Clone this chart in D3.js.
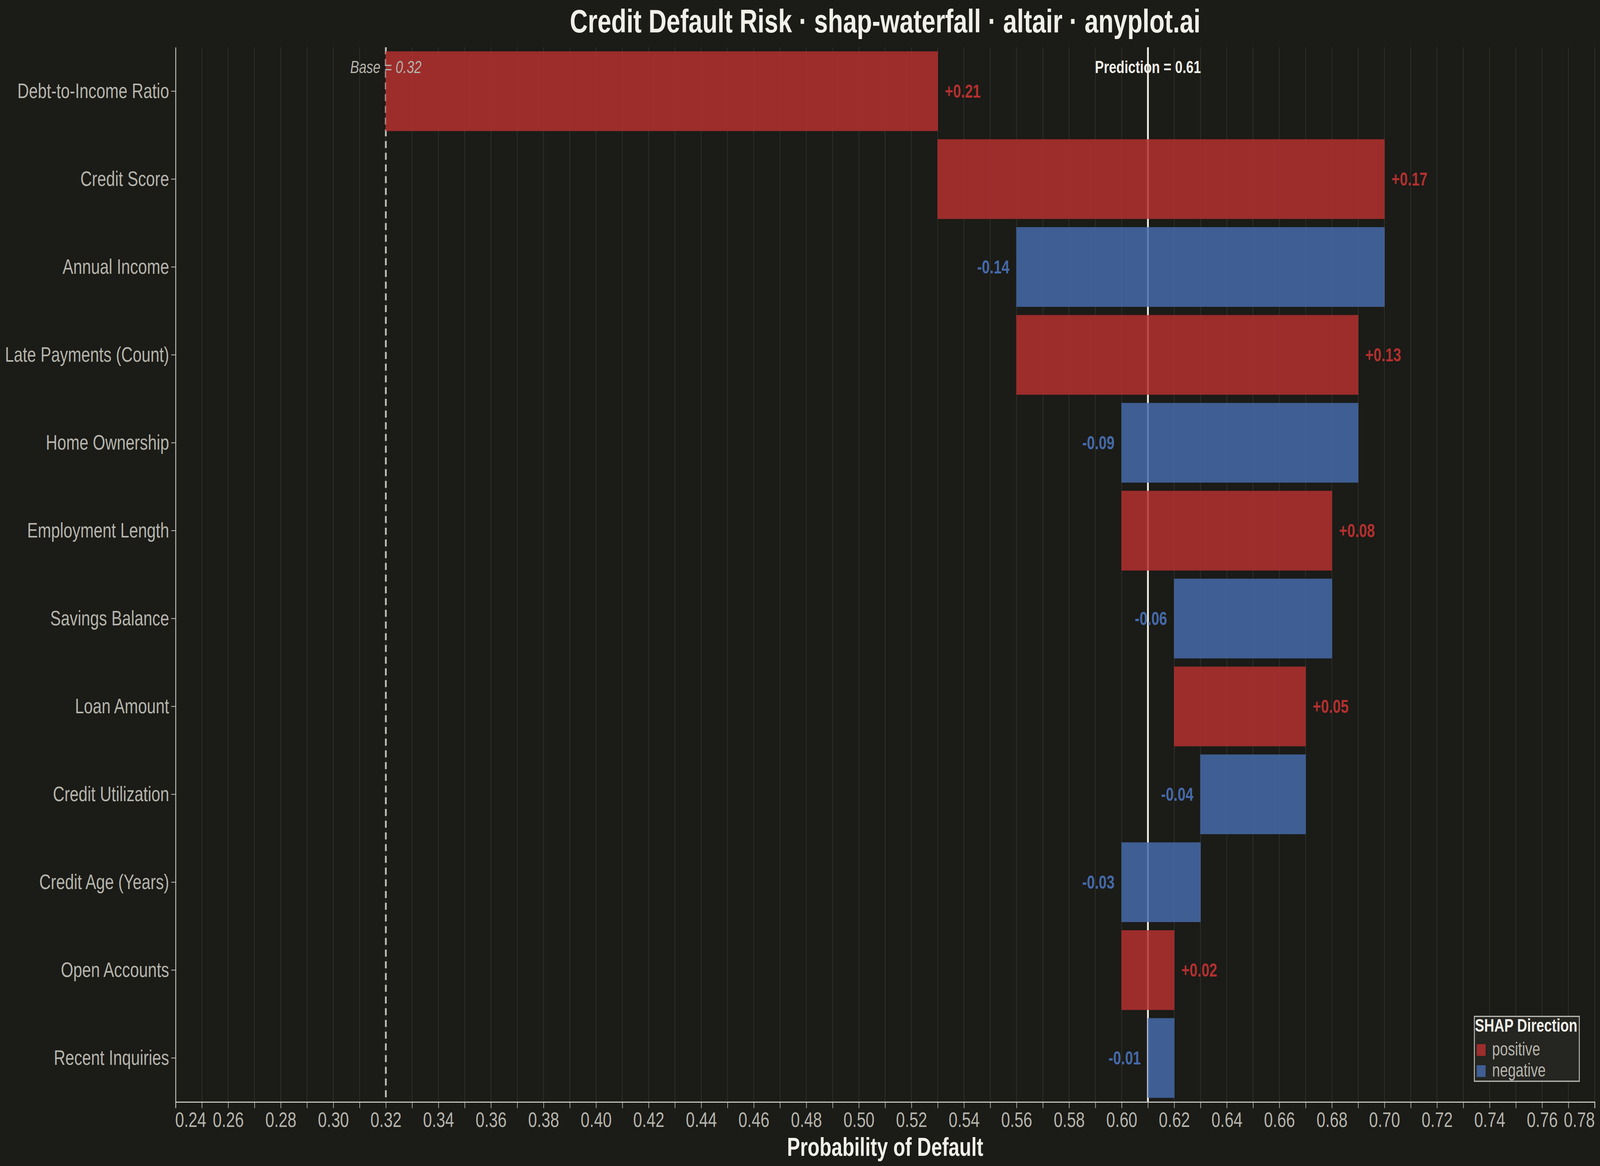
<!DOCTYPE html>
<html>
<head>
<meta charset="utf-8">
<script src="https://cdn.jsdelivr.net/npm/d3@7"></script>
<style>
  html, body { margin: 0; padding: 0; background: #1b1b17; overflow: hidden; }
  svg { display: block; width: 100vw; height: 100vh; font-family: "Liberation Sans", Arial, sans-serif; }
</style>
</head>
<body>
<svg id="chart"></svg>
<script>
// Drawn in a 5412x2985 coordinate space, stretched to whatever the window is.
const width = 5412;
const height = 2985;

// SHAP contributions, top to bottom
const features = [
  "Debt-to-Income Ratio", "Credit Score", "Annual Income", "Late Payments (Count)",
  "Home Ownership", "Employment Length", "Savings Balance", "Loan Amount",
  "Credit Utilization", "Credit Age (Years)", "Open Accounts", "Recent Inquiries"
];
const shapValues = [0.21, 0.17, -0.14, 0.13, -0.09, 0.08, -0.06, 0.05, -0.04, -0.03, 0.02, -0.01];
const baseValue = 0.32;
const directions = ["positive", "negative"];
const xTicks = d3.range(24, 79).map(d => d / 100);

// Running totals for the waterfall
let running = baseValue;
const rows = features.map((f, i) => {
  const start = running;
  running = +(running + shapValues[i]).toFixed(4);
  return { feature: f, value: shapValues[i], start: start, end: running };
});
const prediction = running;

const colors = { positive: "#b3302f", negative: "#456aa9" };
const textLight = "#b5b4ac";
const textBright = "#f0efe8";

const margin = { top: 121, right: 18, bottom: 164, left: 594 };

const x = d3.scaleLinear()
  .domain([0.24, 0.78])
  .range([margin.left, width - margin.right]);

const y = d3.scaleBand()
  .domain(features)
  .range([margin.top, height - margin.bottom])
  .paddingInner(0.1)
  .paddingOuter(0.05);

const svg = d3.select("#chart")
  .attr("viewBox", [0, 0, width, height])
  .attr("preserveAspectRatio", "none");

svg.append("rect")
  .attr("width", width).attr("height", height)
  .attr("fill", "#1b1b17");

// Vertical grid
svg.append("g")
  .selectAll("line")
  .data(xTicks)
  .join("line")
  .attr("x1", d => x(d)).attr("x2", d => x(d))
  .attr("y1", margin.top).attr("y2", height - margin.bottom)
  .attr("stroke", "#2f2f2b")
  .attr("stroke-width", 2.5);

// Base and prediction reference lines
svg.append("line")
  .attr("x1", x(baseValue)).attr("x2", x(baseValue))
  .attr("y1", margin.top).attr("y2", height - margin.bottom)
  .attr("stroke", "#bebdb5")
  .attr("stroke-width", 6)
  .attr("stroke-dasharray", "18,12");

svg.append("line")
  .attr("x1", x(prediction)).attr("x2", x(prediction))
  .attr("y1", margin.top).attr("y2", height - margin.bottom)
  .attr("stroke", "#f0efe8")
  .attr("stroke-width", 6);

// Bars
svg.append("g")
  .selectAll("rect")
  .data(rows)
  .join("rect")
  .attr("x", d => x(Math.min(d.start, d.end)))
  .attr("y", d => y(d.feature))
  .attr("width", d => Math.abs(x(d.end) - x(d.start)))
  .attr("height", y.bandwidth())
  .attr("fill", d => d.value > 0 ? colors.positive : colors.negative)
  .attr("fill-opacity", 0.85)
  .attr("stroke", d => d.value > 0 ? colors.positive : colors.negative)
  .attr("stroke-opacity", 0.6)
  .attr("stroke-width", 2);

// Value labels
svg.append("g")
  .selectAll("text")
  .data(rows)
  .join("text")
  .attr("x", d => d.value > 0 ? x(Math.max(d.start, d.end)) + 24 : x(Math.min(d.start, d.end)) - 24)
  .attr("y", d => y(d.feature) + y.bandwidth() / 2)
  .attr("dy", "0.35em")
  .attr("text-anchor", d => d.value > 0 ? "start" : "end")
  .attr("font-size", 48)
  .attr("font-weight", "bold")
  .attr("fill", d => d.value > 0 ? colors.positive : colors.negative)
  .text(d => (d.value > 0 ? "+" : "") + d.value.toFixed(2));

// Reference line labels
svg.append("text")
  .attr("x", x(baseValue)).attr("y", 187)
  .attr("text-anchor", "middle")
  .attr("font-size", 45)
  .attr("font-style", "italic")
  .attr("fill", textLight)
  .text("Base = " + baseValue.toFixed(2));

svg.append("text")
  .attr("x", x(prediction)).attr("y", 187)
  .attr("text-anchor", "middle")
  .attr("font-size", 45)
  .attr("font-weight", "bold")
  .attr("fill", textBright)
  .text("Prediction = " + prediction.toFixed(2));

// X axis
const xAxis = svg.append("g")
  .attr("transform", `translate(0,${height - margin.bottom})`)
  .call(d3.axisBottom(x)
    .tickValues(xTicks)
    .tickSize(16)
    .tickPadding(10)
    .tickFormat(d => Math.round(d * 100) % 2 === 0 ? d3.format(".2f")(d) : ""));
xAxis.select(".domain").attr("stroke", "#c4c4bc").attr("stroke-width", 3);
xAxis.selectAll(".tick line").attr("stroke", "#c4c4bc").attr("stroke-width", 2);
xAxis.selectAll(".tick text")
  .attr("font-size", 54)
  .attr("font-family", "Liberation Sans, Arial, sans-serif")
  .attr("fill", textLight)
  .attr("text-anchor", (d, i, n) => i === 0 ? "start" : (i === n.length - 1 ? "end" : "middle"))
  .attr("x", (d, i, n) => i === 0 ? -2 : 0);

svg.append("text")
  .attr("x", (x.range()[0] + x.range()[1]) / 2)
  .attr("y", 2959)
  .attr("text-anchor", "middle")
  .attr("font-size", 66)
  .attr("font-weight", "bold")
  .attr("fill", textBright)
  .text("Probability of Default");

// Y axis
const yAxis = svg.append("g")
  .attr("transform", `translate(${margin.left},0)`)
  .call(d3.axisLeft(y).tickSize(15).tickPadding(7).tickSizeOuter(0));
yAxis.select(".domain").attr("stroke", "#c4c4bc").attr("stroke-width", 3);
yAxis.selectAll(".tick line").attr("stroke", "#c4c4bc").attr("stroke-width", 2);
yAxis.selectAll(".tick text")
  .attr("font-size", 54)
  .attr("font-family", "Liberation Sans, Arial, sans-serif")
  .attr("fill", textLight);

// Title
svg.append("text")
  .attr("x", (x.range()[0] + x.range()[1]) / 2)
  .attr("y", 83)
  .attr("text-anchor", "middle")
  .attr("font-size", 84)
  .attr("font-weight", "bold")
  .attr("fill", textBright)
  .text("Credit Default Risk · shap-waterfall · altair · anyplot.ai");

// Legend
const legend = svg.append("g").attr("transform", "translate(4987,2602)");
legend.append("rect")
  .attr("width", 355).attr("height", 166)
  .attr("fill", "#252521")
  .attr("stroke", "#c4c4bc")
  .attr("stroke-width", 3);
legend.append("text")
  .attr("x", 2).attr("y", 39)
  .attr("font-size", 47)
  .attr("font-weight", "bold")
  .attr("fill", textBright)
  .text("SHAP Direction");
const entry = legend.selectAll("g.entry")
  .data(directions)
  .join("g")
  .attr("class", "entry")
  .attr("transform", (d, i) => `translate(8,${71 + i * 54})`);
entry.append("rect")
  .attr("width", 30).attr("height", 30)
  .attr("fill", d => colors[d])
  .attr("fill-opacity", 0.85);
entry.append("text")
  .attr("x", 52).attr("y", 29)
  .attr("font-size", 48)
  .attr("fill", textLight)
  .text(d => d);
</script>
</body>
</html>
